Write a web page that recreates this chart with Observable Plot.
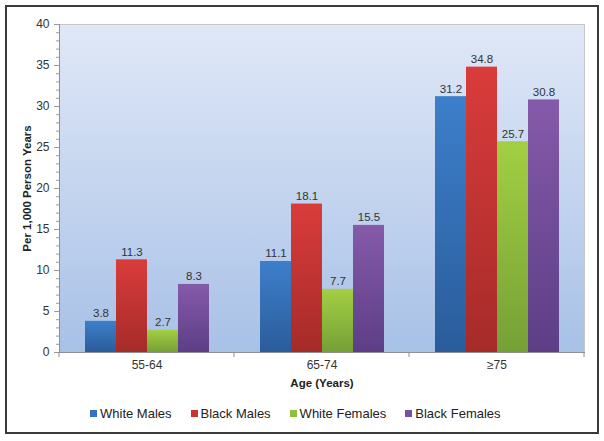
<!DOCTYPE html>
<html>
<head>
<meta charset="utf-8">
<script src="https://cdn.jsdelivr.net/npm/d3@7"></script>
<script src="https://cdn.jsdelivr.net/npm/@observablehq/plot@0.6"></script>
<style>
  body { margin: 0; background: #fff; font-family: "Liberation Sans", Arial, sans-serif; }
  #wrap { position: relative; width: 604px; height: 441px; overflow: hidden; background: #fff; }
  #border { position: absolute; left: 5px; top: 5px; width: 590px; height: 425px; border: 2px solid #3a3a3a; pointer-events: none; }
  #chart { position: absolute; left: 0; top: 0; }
  #legend { position: absolute; left: 90px; top: 406px; display: flex; align-items: center; font-size: 13px; color: #222; white-space: nowrap; }
  .item { display: flex; align-items: center; margin-right: 19px; }
  .sw { width: 7px; height: 7px; margin-right: 3px; display: inline-block; }
</style>
</head>
<body>
<div id="wrap">
  <div id="chart"></div>
  <div id="legend"></div>
  <div id="border"></div>
</div>
<script>
// ---- data ----
const ages = ["55-64", "65-74", "≥75"];
const groups = ["White Males", "Black Males", "White Females", "Black Females"];
const whiteMales   = [3.8, 11.1, 31.2];
const blackMales   = [11.3, 18.1, 34.8];
const whiteFemales = [2.7, 7.7, 25.7];
const blackFemales = [8.3, 15.5, 30.8];
const yTicks = [0, 5, 10, 15, 20, 25, 30, 35, 40];
const yMinorTicks = d3.range(0, 41, 1);

// ---- styles ----
const topColors    = ["#3d7fcb", "#d93c3b", "#a3cf43", "#855aaa"];
const bottomColors = ["#2a5c9b", "#a52b29", "#75a036", "#5d3e86"];
const swatchColors = ["#3873bd", "#c93331", "#90bf3d", "#77509e"];

const seriesValues = [whiteMales, blackMales, whiteFemales, blackFemales];
const data = [];
ages.forEach((age, i) => {
  groups.forEach((g, j) => data.push({age, group: g, value: seriesValues[j][i]}));
});

const font = '"Liberation Sans", Arial, sans-serif';

const chart = Plot.plot({
  width: 604,
  height: 395,
  marginLeft: 58,
  marginRight: 19,
  marginTop: 24,
  marginBottom: 43,
  style: {fontFamily: font, fontSize: "12px", color: "#333", background: "transparent", overflow: "visible"},
  fx: {domain: ages, padding: 0, label: null},
  x: {domain: groups, paddingInner: 0, paddingOuter: 0.745, axis: null},
  y: {domain: [0, 40]},
  color: {domain: groups, range: groups.map((_, i) => `url(#barGrad${i})`)},
  marks: [
    Plot.frame({fill: "url(#bgGrad)", stroke: "#c6c6c6", facet: "super"}),
    Plot.axisY(yMinorTicks, {tickSize: 3, tickFormat: () => "", stroke: "#9a9a9a", label: null}),
    Plot.axisY(yTicks, {
      tickSize: 5, tickPadding: 5, stroke: "#9a9a9a", fill: "#333", fontSize: 12,
      label: "Per 1,000 Person Years", labelAnchor: "center", labelArrow: "none", labelOffset: 37
    }),
    Plot.barY(data, {fx: "age", x: "group", y: "value", fill: "group"}),
    Plot.text(data, {
      fx: "age", x: "group", y: "value", text: d => d.value.toFixed(1),
      dy: -4, lineAnchor: "bottom", fill: "#333", fontSize: 11.5
    }),
    Plot.frame({anchor: "left", stroke: "#8f8f8f", facet: "super"}),
    Plot.frame({anchor: "bottom", stroke: "#8f8f8f", facet: "super"}),
    Plot.axisFx({
      anchor: "bottom", tickSize: 0, tickPadding: 8, fill: "#333", fontSize: 12,
      label: "Age (Years)", labelAnchor: "center", labelArrow: "none", labelOffset: 34
    })
  ]
});

// gradients
const svg = d3.select(chart);
const defs = svg.insert("defs", ":first-child");
const bg = defs.append("linearGradient").attr("id", "bgGrad").attr("x1", 0).attr("y1", 0).attr("x2", 0).attr("y2", 1);
bg.append("stop").attr("offset", "0%").attr("stop-color", "#e0e8f7");
bg.append("stop").attr("offset", "100%").attr("stop-color", "#a8c1e7");
groups.forEach((g, i) => {
  const lg = defs.append("linearGradient").attr("id", `barGrad${i}`).attr("x1", 0).attr("y1", 0).attr("x2", 0).attr("y2", 1);
  lg.append("stop").attr("offset", "0%").attr("stop-color", topColors[i]);
  lg.append("stop").attr("offset", "100%").attr("stop-color", bottomColors[i]);
});

// bold axis labels
svg.selectAll("g[aria-label='y-axis label'] text, g[aria-label='fx-axis label'] text")
  .attr("font-weight", "bold").attr("font-size", 11.5).attr("fill", "#222");

// category boundary ticks on the x axis, from the fx scale
const fx = chart.scale("fx");
const y = chart.scale("y");
const y0 = y.apply(0);
const bounds = [fx.apply(ages[0]), ...ages.map(a => fx.apply(a) + fx.bandwidth)];
svg.append("g").attr("stroke", "#8f8f8f")
  .selectAll("line").data(bounds).join("line")
  .attr("x1", d => d).attr("x2", d => d)
  .attr("y1", y0).attr("y2", y0 + 5);

document.getElementById("chart").appendChild(chart);

// legend
const legend = d3.select("#legend");
groups.forEach((g, i) => {
  const it = legend.append("div").attr("class", "item");
  it.append("span").attr("class", "sw").style("background", swatchColors[i]);
  it.append("span").text(g);
});
</script>
</body>
</html>
